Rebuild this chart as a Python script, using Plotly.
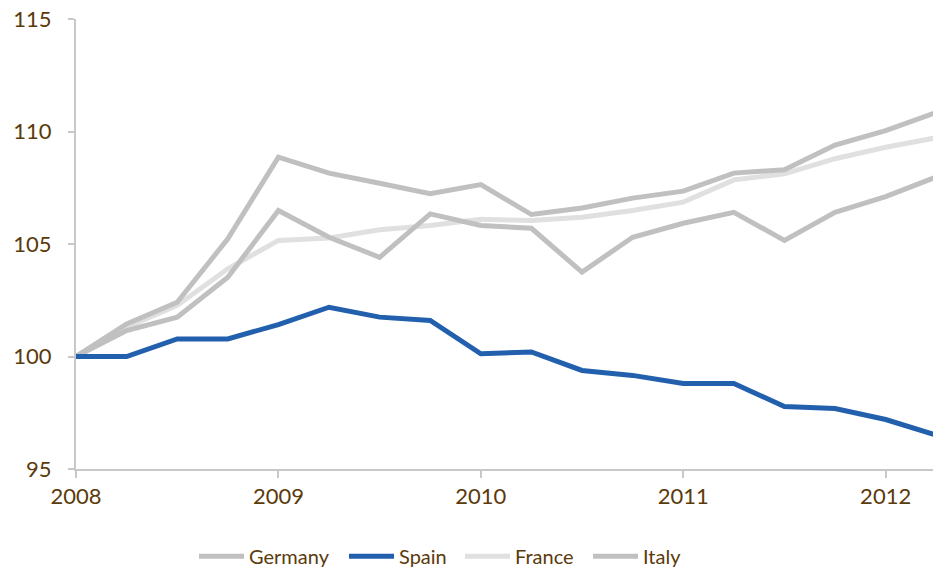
import plotly.graph_objects as go

quarters = [2008 + i * 0.25 for i in range(18)]

germany = [100, 101.45, 102.41, 105.23, 108.86, 108.15, 107.7, 107.23, 107.64,
           106.31, 106.6, 107.04, 107.35, 108.15, 108.3, 109.4, 110.04, 110.85]
spain = [100, 100, 100.78, 100.78, 101.42, 102.19, 101.75, 101.6, 100.12,
         100.2, 99.38, 99.16, 98.8, 98.8, 97.78, 97.69, 97.2, 96.5]
france = [100, 101.3, 102.27, 103.9, 105.16, 105.27, 105.63, 105.82, 106.1,
          106.04, 106.19, 106.49, 106.86, 107.85, 108.12, 108.79, 109.3, 109.72]
italy = [100, 101.15, 101.75, 103.52, 106.49, 105.3, 104.41, 106.34, 105.82,
         105.7, 103.75, 105.3, 105.92, 106.41, 105.16, 106.41, 107.11, 107.98]

series = [("Germany", germany, "#c0c0c0"),
          ("Spain", spain, "#2260ad"),
          ("France", france, "#e0e0e0"),
          ("Italy", italy, "#c0c0c0")]

x_ticks = [2008, 2009, 2010, 2011, 2012]
y_ticks = [95, 100, 105, 110, 115]

font_color = "#5b3a0b"
font_family = "Lato, 'Open Sans', sans-serif"

# legend entry left edges in pixels
legend_px = [194, 344, 460, 588]
L, PW = 76, 857

fig = go.Figure()
legend_names = ["legend", "legend2", "legend3", "legend4"]
order = [2, 0, 3, 1]
for idx in order:
    name, vals, color = series[idx]
    fig.add_trace(go.Scatter(x=quarters, y=vals, mode="lines", name=name,
                             line=dict(color=color, width=5),
                             legend=legend_names[idx]))

legend_common = dict(orientation="h", y=-0.194, yanchor="middle",
                     font=dict(size=20, color=font_color, family=font_family),
                     itemwidth=45, bgcolor="rgba(0,0,0,0)")
layout_legends = {}
for i, ln in enumerate(legend_names):
    layout_legends[ln] = dict(x=(legend_px[i] - L) / PW, xanchor="left", **legend_common)

fig.update_layout(
    width=933, height=572,
    margin=dict(l=76, r=0, t=19, b=103, autoexpand=False),
    plot_bgcolor="white", paper_bgcolor="white",
    font=dict(family=font_family, size=22, color=font_color),
    showlegend=True,
    xaxis=dict(range=[2008, 2012.234], tickvals=x_ticks, ticktext=[str(t) for t in x_ticks],
               showgrid=False, zeroline=False, showline=True, linecolor="#c8c8c8",
               linewidth=2, ticks="outside", ticklen=7, tickcolor="#c8c8c8", tickwidth=2,
               tickfont=dict(size=22, color=font_color), automargin=False),
    yaxis=dict(range=[95, 115], tickvals=y_ticks,
               showgrid=False, zeroline=False, showline=True, linecolor="#c8c8c8",
               linewidth=2, ticks="outside", ticklen=6, tickcolor="#c8c8c8", tickwidth=2,
               tickfont=dict(size=22, color=font_color), ticklabelstandoff=12,
               automargin=False),
    **layout_legends,
)

fig.write_html("out.html", config={"displayModeBar": False})

# remove default page margin so the figure sits at the window origin
with open("out.html", "r", encoding="utf-8") as f:
    html = f.read()
html = html.replace("<head>", "<head><style>html,body{margin:0;padding:0;overflow:hidden;}</style>", 1)
with open("out.html", "w", encoding="utf-8") as f:
    f.write(html)
